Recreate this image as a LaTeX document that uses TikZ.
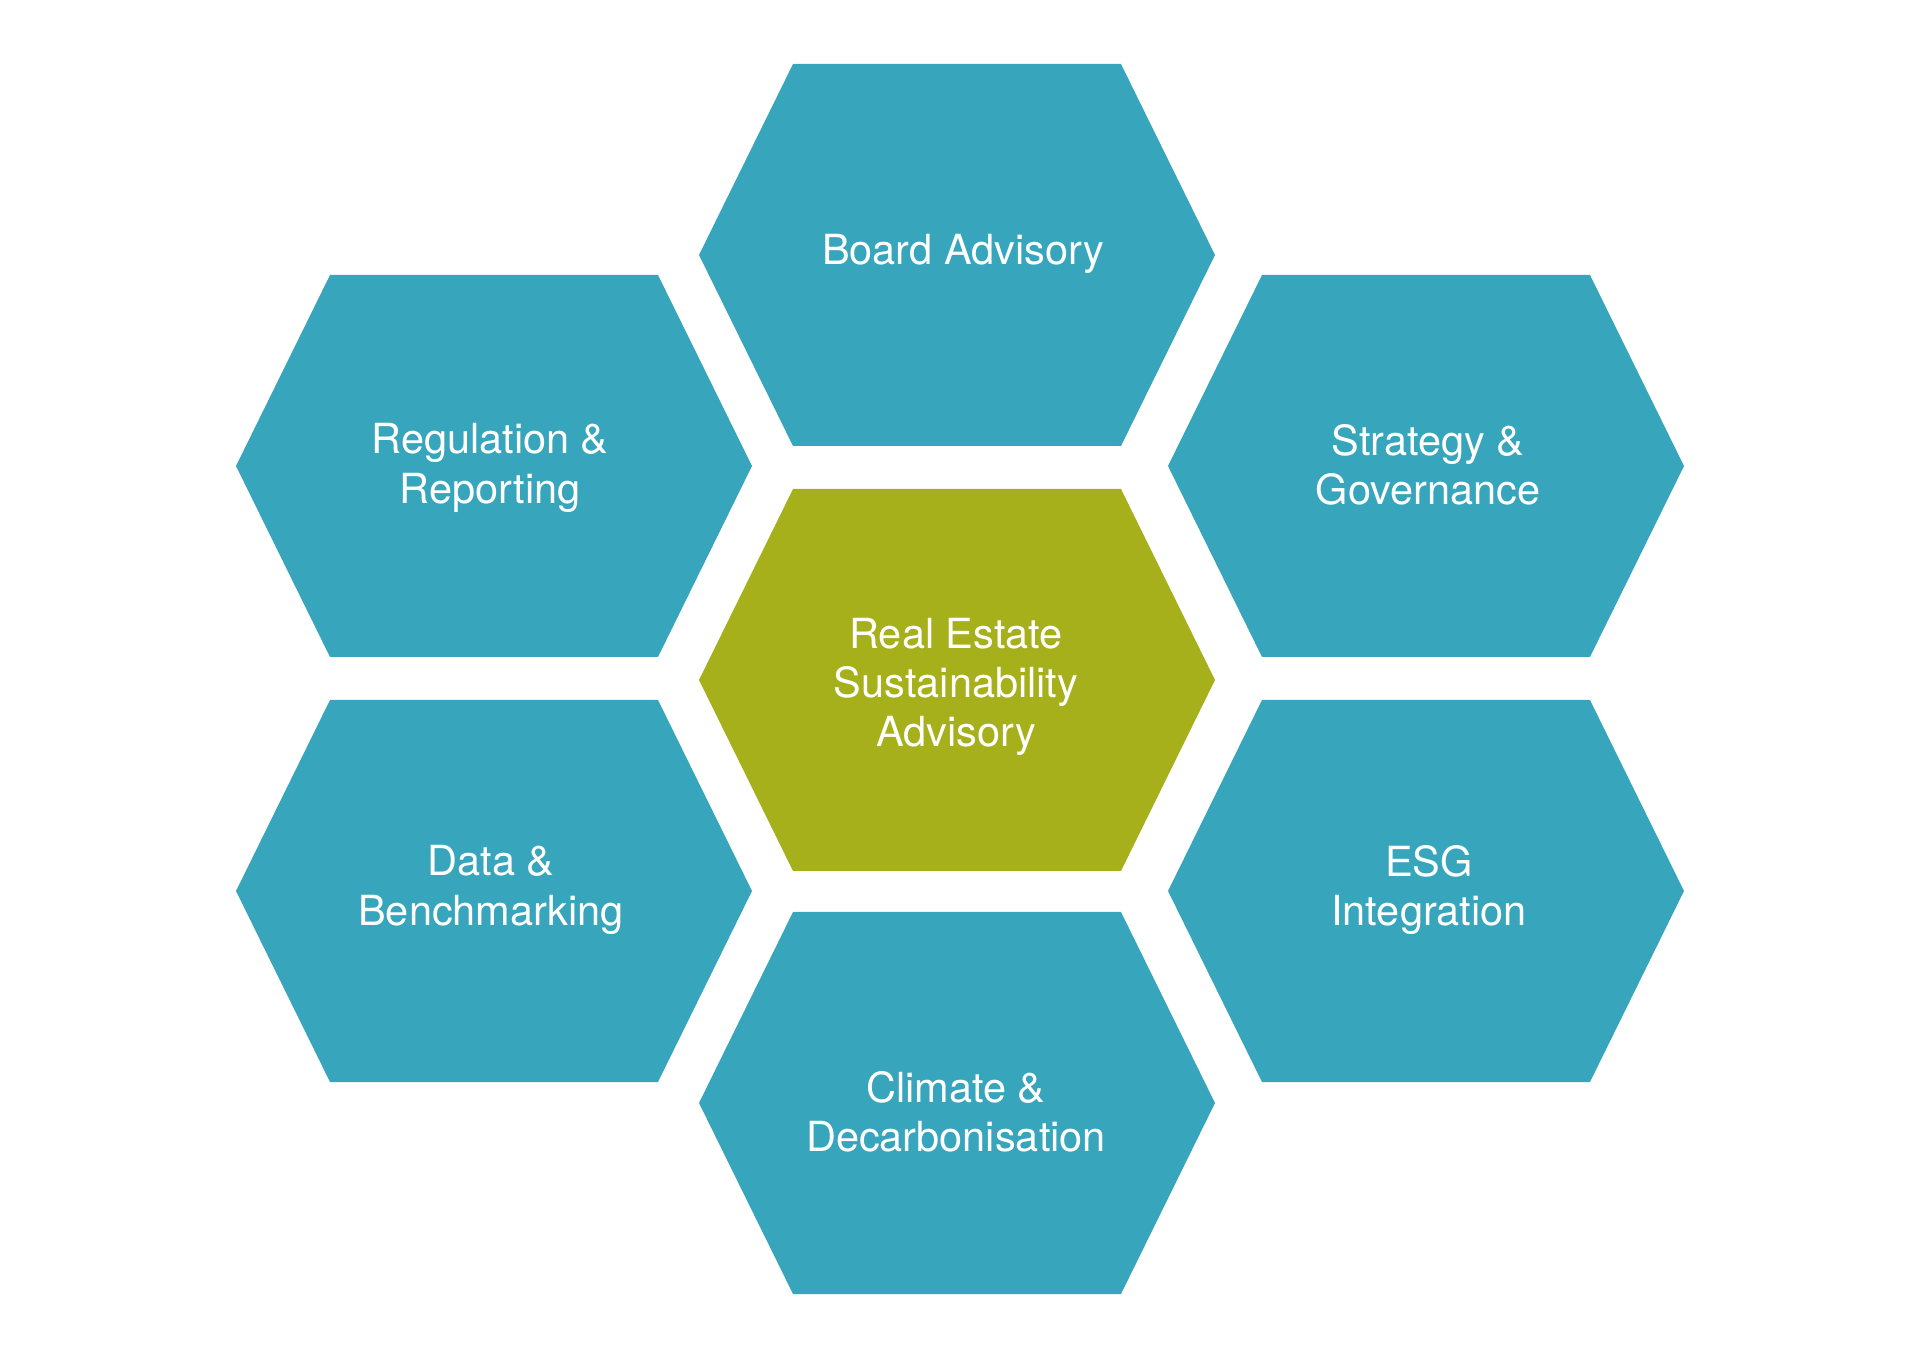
\documentclass[tikz,border=0pt]{standalone}
\usepackage{fontspec}
\setmainfont{TeX Gyre Heros}
\usepackage{tikz}

\definecolor{hexteal}{RGB}{55,166,189}
\definecolor{hexolive}{RGB}{165,176,26}

\tikzset{
  cell/.style={fill=hexteal},
  core/.style={fill=hexolive},
  celltext/.style={text=white,align=center,font=\fontsize{11.8}{14}\selectfont}
}

% hexagon (flat top) centred at #1
\newcommand{\hexcell}[2]{\fill[#2,shift={(#1)}] (-258,0) -- (-164,-191) -- (164,-191) -- (258,0) -- (164,191) -- (-164,191) -- cycle;}

\begin{document}
\begin{tikzpicture}[x=0.01cm,y=-0.01cm]
\useasboundingbox (0,0) rectangle (1920,1358);
%cells
\hexcell{957,255}{cell}
\hexcell{494,466}{cell}
\hexcell{1426,466}{cell}
\hexcell{957,680}{core}
\hexcell{494,891}{cell}
\hexcell{1426,891}{cell}
\hexcell{957,1103}{cell}
%texts
\path (963,254) node(board)[celltext]{Board Advisory}
(490,468) node(reg)[celltext]{Regulation \&\\ Reporting}
(1428,465) node(strat)[celltext]{Strategy \&\\ Governance}
(956,687) node(centre)[celltext]{Real Estate\\ Sustainability\\ Advisory}
(491,890) node(data)[celltext]{Data \&\\ Benchmarking}
(1429,890) node(esg)[celltext]{ESG\\ Integration}
(956,1112) node(climate)[celltext]{Climate \&\\ Decarbonisation};
\end{tikzpicture}
\end{document}
